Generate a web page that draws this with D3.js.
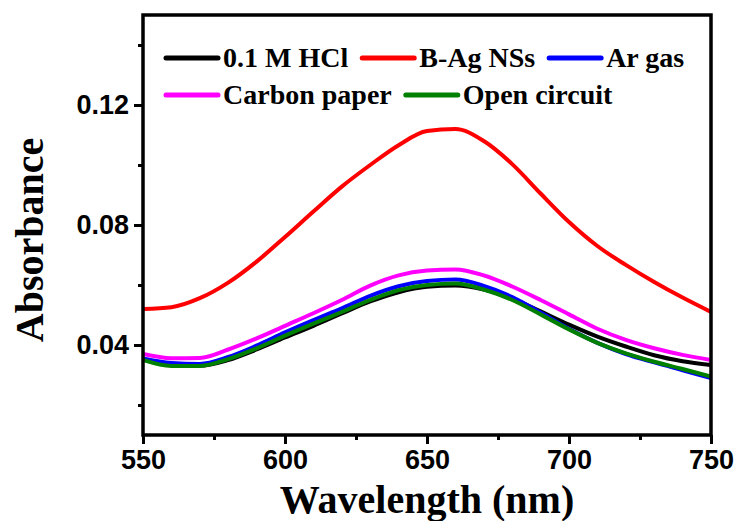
<!DOCTYPE html>
<html>
<head>
<meta charset="utf-8">
<script src="https://cdn.jsdelivr.net/npm/d3@7"></script>
<style>
  body { margin: 0; background: #fff; }
  svg { display: block; }
</style>
</head>
<body>
<svg id="chart" width="739" height="521"></svg>
<script>
/** wavelengths (nm) the spectra were read at */
var wavelengths = [550, 560, 570, 580, 590, 600, 610, 620, 630, 640, 650,
                   660, 670, 680, 690, 700, 710, 720, 730, 740, 750];

/** absorbance values per sample */
var hclValues    = [0.0352, 0.0333, 0.0331, 0.0350, 0.0385, 0.0425, 0.0464, 0.0505, 0.0545, 0.0576, 0.0594,
                    0.0598, 0.0585, 0.0555, 0.0512, 0.0468, 0.0428, 0.0395, 0.0366, 0.0346, 0.0333];
var bagValues    = [0.0520, 0.0526, 0.0556, 0.0608, 0.0678, 0.0760, 0.0845, 0.0928, 0.1000, 0.1066, 0.1113,
                    0.1120, 0.1080, 0.1003, 0.0905, 0.0810, 0.0730, 0.0667, 0.0610, 0.0558, 0.0510];
var arValues     = [0.0355, 0.0340, 0.0337, 0.0360, 0.0398, 0.0442, 0.0483, 0.0522, 0.0564, 0.0596, 0.0613,
                    0.0618, 0.0597, 0.0560, 0.0508, 0.0454, 0.0407, 0.0370, 0.0342, 0.0316, 0.0290];
var carbonValues = [0.0370, 0.0356, 0.0357, 0.0385, 0.0422, 0.0464, 0.0506, 0.0550, 0.0598, 0.0632, 0.0648,
                    0.0652, 0.0632, 0.0595, 0.0550, 0.0502, 0.0454, 0.0417, 0.0389, 0.0367, 0.0350];
var openValues   = [0.0350, 0.0330, 0.0330, 0.0353, 0.0389, 0.0431, 0.0471, 0.0510, 0.0550, 0.0583, 0.0600,
                    0.0605, 0.0585, 0.0550, 0.0502, 0.0452, 0.0407, 0.0372, 0.0344, 0.0320, 0.0295];

var seriesNames  = ['0.1 M HCl', 'B-Ag NSs', 'Ar gas', 'Carbon paper', 'Open circuit'];
var seriesColors = ['#000000', '#ff0000', '#0000ff', '#ff00ff', '#008000'];
var seriesValues = [hclValues, bagValues, arValues, carbonValues, openValues];

/** tick values */
var xMajorTicks = [550, 600, 650, 700, 750];
var xMinorTicks = [575, 625, 675, 725];
var yMajorTicks = [0.04, 0.08, 0.12];
var yMinorTicks = [0.02, 0.06, 0.10, 0.14];

var plot = {left: 143, right: 711, top: 15, bottom: 435};

var xScale = d3.scaleLinear().domain([550, 750]).range([plot.left, plot.right]);
var yScale = d3.scaleLinear().domain([0.01, 0.15]).range([plot.bottom, plot.top]);

var svg = d3.select('#chart');

// clip so the thick lines stay in the frame
svg.append('defs').append('clipPath').attr('id', 'clip')
  .append('rect')
  .attr('x', plot.left).attr('y', plot.top)
  .attr('width', plot.right - plot.left).attr('height', plot.bottom - plot.top);

var line = d3.line()
  .x(function(d) { return xScale(d[0]); })
  .y(function(d) { return yScale(d[1]); })
  .curve(d3.curveMonotoneX);

svg.append('g').attr('clip-path', 'url(#clip)')
  .selectAll('path')
  .data(seriesValues)
  .enter().append('path')
  .attr('d', function(vals) {
    return line(wavelengths.map(function(w, i) { return [w, vals[i]]; }));
  })
  .attr('fill', 'none')
  .attr('stroke', function(d, i) { return seriesColors[i]; })
  .attr('stroke-width', 4)
  .attr('stroke-linejoin', 'round');

// axes: major and minor ticks need their own groups, otherwise the join reuses the ticks
svg.append('g').attr('transform', 'translate(0,' + plot.bottom + ')')
  .call(d3.axisBottom(xScale).tickValues(xMajorTicks).tickSize(9).tickPadding(6).tickFormat(d3.format('d')));
svg.append('g').attr('transform', 'translate(0,' + plot.bottom + ')')
  .call(d3.axisBottom(xScale).tickValues(xMinorTicks).tickSize(5).tickFormat(''));

svg.append('g').attr('transform', 'translate(' + plot.left + ',0)')
  .call(d3.axisLeft(yScale).tickValues(yMajorTicks).tickSize(9).tickPadding(5).tickFormat(d3.format('.2f')));
svg.append('g').attr('transform', 'translate(' + plot.left + ',0)')
  .call(d3.axisLeft(yScale).tickValues(yMinorTicks).tickSize(5).tickFormat(''));

svg.selectAll('.domain').remove();
svg.selectAll('.tick line').attr('stroke', '#000').attr('stroke-width', 3);
svg.selectAll('.tick text')
  .attr('fill', '#000')
  .style('font-family', '"Liberation Sans", Arial, sans-serif')
  .style('font-weight', 'bold')
  .style('font-size', '27px');

// frame around the plot
svg.append('rect')
  .attr('x', plot.left).attr('y', plot.top)
  .attr('width', plot.right - plot.left).attr('height', plot.bottom - plot.top)
  .attr('fill', 'none').attr('stroke', '#000').attr('stroke-width', 3.5);

// axis titles
svg.append('text')
  .attr('x', (plot.left + plot.right) / 2).attr('y', 513)
  .attr('text-anchor', 'middle')
  .style('font-family', '"Liberation Serif", "Times New Roman", serif')
  .style('font-weight', 'bold').style('font-size', '40px')
  .text('Wavelength (nm)');

svg.append('text')
  .attr('transform', 'translate(43,240) rotate(-90)')
  .attr('text-anchor', 'middle')
  .style('font-family', '"Liberation Serif", "Times New Roman", serif')
  .style('font-weight', 'bold').style('font-size', '40px')
  .text('Absorbance');

// legend, two rows flowing left to right
var legendRows = [[0, 1, 2], [3, 4]];
var rowY = [58, 95];
legendRows.forEach(function(row, r) {
  var x = 166;
  row.forEach(function(idx) {
    var g = svg.append('g');
    g.append('line')
      .attr('x1', x).attr('x2', x + 52)
      .attr('y1', rowY[r]).attr('y2', rowY[r])
      .attr('stroke', seriesColors[idx]).attr('stroke-width', 5)
      .attr('stroke-linecap', 'round');
    var t = g.append('text')
      .attr('x', x + 57).attr('y', rowY[r] + 9)
      .style('font-family', '"Liberation Serif", "Times New Roman", serif')
      .style('font-weight', 'bold').style('font-size', '28px')
      .text(seriesNames[idx]);
    x = x + 57 + t.node().getComputedTextLength() + 14;
  });
});
</script>
</body>
</html>
